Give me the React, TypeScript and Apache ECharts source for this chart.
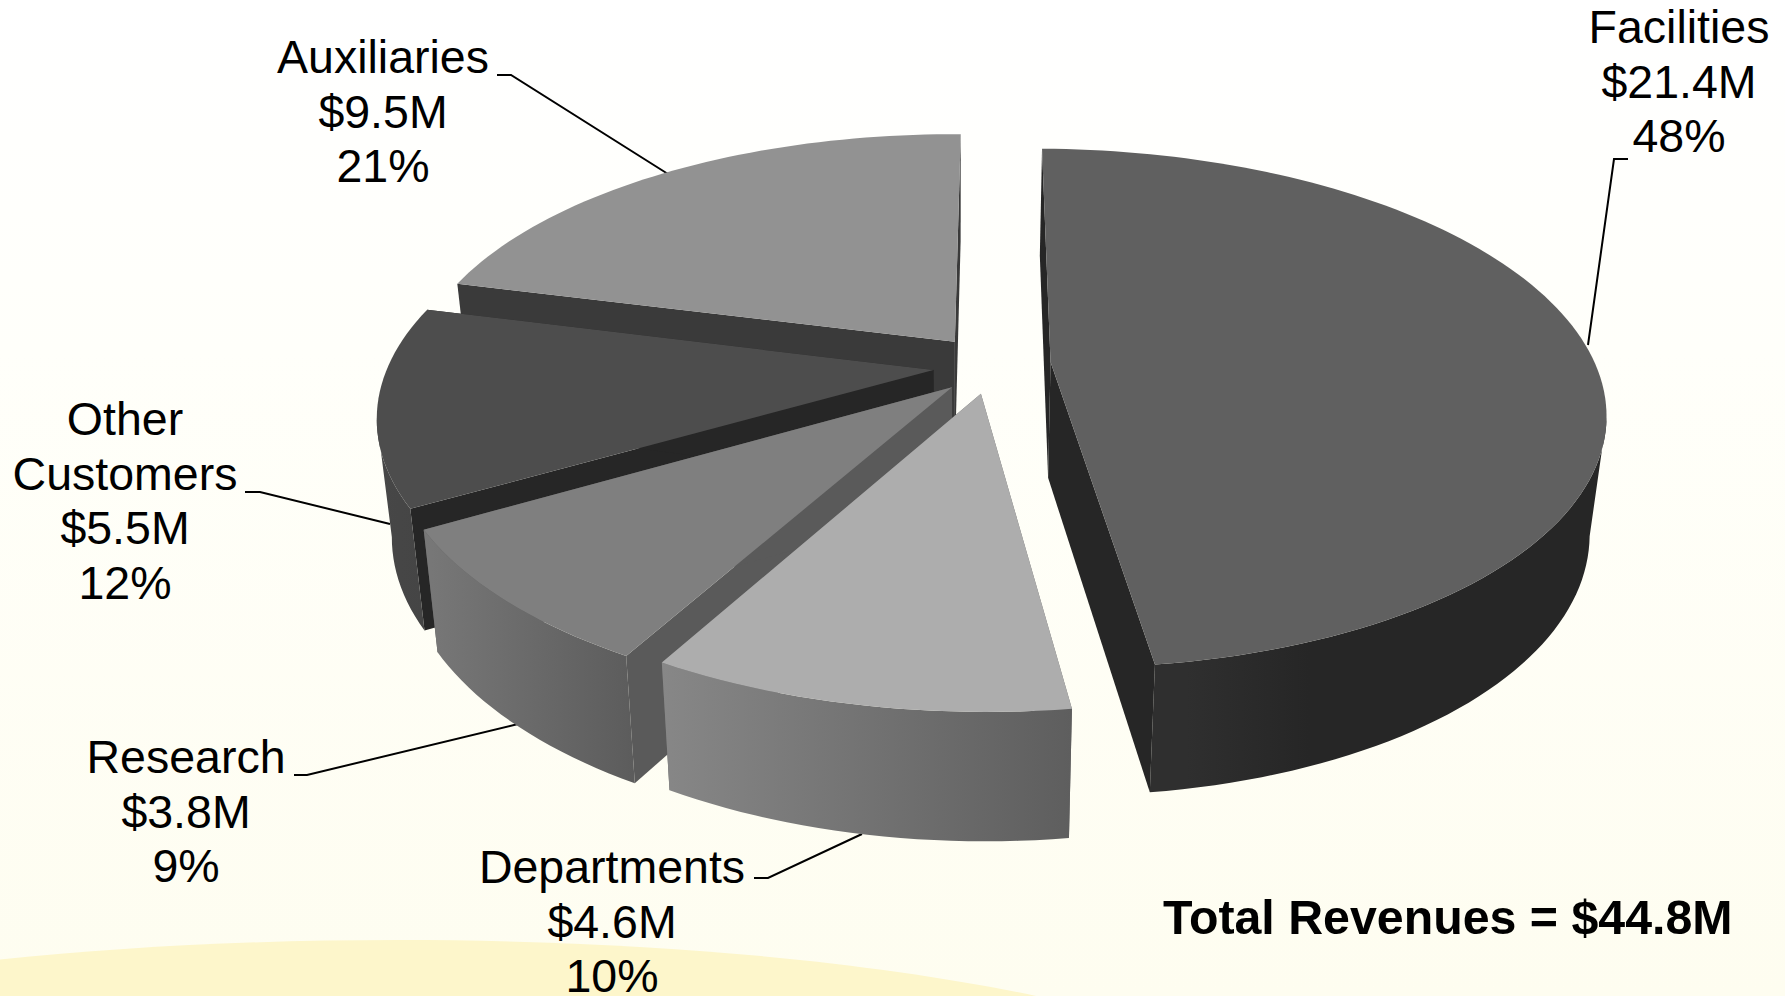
import React, { useEffect, useRef } from "react";
import * as echarts from "echarts";

const categories = ["Facilities", "Departments", "Research", "Other\nCustomers", "Auxiliaries"];
const values = [21.4, 4.6, 3.8, 5.5, 9.5];
const percents = [48, 10, 9, 12, 21];
const totalLabel = "Total Revenues = $44.8M";

// styles, in the same order as the categories
const topColors = ["#606060", "#adadad", "#7f7f7f", "#4d4d4d", "#929292"];
const cutColors = ["#262626", "#6a6a6a", "#5a5a5a", "#262626", "#3a3a3a"];
const wallStops: [number, string][][] = [
  [[0, "#2f2f2f"], [0.08, "#2f2f2f"], [0.35, "#262626"], [1, "#262626"]],
  [[0, "#878787"], [1, "#5e5e5e"]],
  [[0, "#787878"], [1, "#5c5c5c"]],
  [[0, "#474747"], [1, "#454545"]],
  [[0, "#555555"], [1, "#555555"]],
];
const explode: [number, number][] = [
  [0.172, -0.012],
  [0.043, 0.112],
  [-0.009, 0.087],
  [-0.043, 0.02],
  [-0.004, -0.0935],
];
const radii = [1, 0.992, 1, 1, 1];
const labelCentre: [number, number][] = [
  [1679, 27],
  [612, 867],
  [186, 757],
  [125, 419],
  [383, 57],
];
const leaders: [number, number][][] = [
  [[1628, 159], [1614, 159], [1588, 345]],
  [[754, 878], [768, 878], [862, 834]],
  [[294, 775], [307, 775], [518, 724]],
  [[245, 492], [260, 492], [390, 524]],
  [[497, 75], [511, 75], [668, 174]],
];
const paintOrder = [4, 3, 2, 1, 0];
const startDeg = 0.7;

// projection of the tilted pie
const CX = 957, CY = 365, RX = 545, AY = 252.3, PERSP = 0.1785, DEPTH = 116, CONVERGE = 0.026;
const FONT = '46.5px "Liberation Sans", Arial, sans-serif';
const LINE_STEP = 54.6;

function project(x: number, y: number, z: number): number[] {
  const den = 1 - PERSP * y;
  return [CX + ((RX * x) / den) * (1 - CONVERGE * z), CY + (AY * y) / den + (DEPTH * z) / Math.sqrt(den)];
}

const total = values.reduce((s, v) => s + v, 0);

function sliceAngles(i: number): [number, number] {
  let before = 0;
  for (let k = 0; k < i; k++) before += values[k];
  const a0 = startDeg + (before / total) * 360;
  return [a0, a0 + (values[i] / total) * 360];
}

function renderSlice(params: any) {
  const i = paintOrder[params.dataIndex];
  const [a0, a1] = sliceAngles(i);
  const [ox, oy] = explode[i];
  const rim = (deg: number, z: number) => {
    const t = (deg * Math.PI) / 180;
    return project(ox + radii[i] * Math.sin(t), oy - radii[i] * Math.cos(t), z);
  };
  const n = Math.max(8, Math.ceil((a1 - a0) / 1.5));
  const rimTop: number[][] = [];
  const rimBottom: number[][] = [];
  for (let k = 0; k <= n; k++) {
    const d = a0 + ((a1 - a0) * k) / n;
    rimTop.push(rim(d, 0));
    rimBottom.push(rim(d, 1));
  }
  // keep only the stretch of the outer wall that faces the viewer
  const faces = (k: number) => rimTop[k + 1][0] - rimTop[k][0] < 0;
  const shownTop: number[][] = [];
  const shownBottom: number[][] = [];
  for (let k = 0; k < n; k++) {
    if (!faces(k)) continue;
    if (shownTop.length === 0) {
      shownTop.push(rimTop[k]);
      shownBottom.push(rimBottom[k]);
    }
    shownTop.push(rimTop[k + 1]);
    shownBottom.push(rimBottom[k + 1]);
  }
  const apexTop = project(ox, oy, 0);
  const apexBottom = project(ox, oy, 1);
  const cutA = [apexTop, rimTop[0], rimBottom[0], apexBottom];
  const cutB = [apexTop, rimTop[n], rimBottom[n], apexBottom];
  const top = [apexTop, ...rimTop];
  const amount = `$${values[i].toFixed(1)}M`;
  const lines = `${categories[i]}\n${amount}\n${percents[i]}%`.split("\n");
  const children: any[] = [
    {
      type: "polyline",
      shape: { points: leaders[i] },
      style: { stroke: "#000", lineWidth: 2, fill: "none" },
    },
    { type: "polygon", shape: { points: cutA }, style: { fill: cutColors[i] } },
    { type: "polygon", shape: { points: cutB }, style: { fill: cutColors[i] } },
  ];
  if (shownTop.length > 1) {
    children.push({
      type: "polygon",
      shape: { points: [...shownTop, ...shownBottom.slice().reverse()] },
      style: {
        fill: new echarts.graphic.LinearGradient(
          0, 0, 1, 0,
          wallStops[i].map(([offset, color]) => ({ offset, color }))
        ),
      },
    });
  }
  children.push({ type: "polygon", shape: { points: top }, style: { fill: topColors[i] } });
  lines.forEach((line, l) => {
    children.push({
      type: "text",
      style: {
        text: line,
        x: labelCentre[i][0],
        y: labelCentre[i][1] + l * LINE_STEP,
        font: FONT,
        lineHeight: 34,
        fill: "#000",
        align: "center",
        verticalAlign: "middle",
      },
    });
  });
  return { type: "group", children };
}

export default function App() {
  const ref = useRef<HTMLDivElement>(null);
  useEffect(() => {
    document.body.style.margin = "0";
    const chart = echarts.init(ref.current!, undefined, { renderer: "svg" });
    chart.setOption({
      animation: false,
      backgroundColor: {
        type: "linear",
        x: 0, y: 0, x2: 0, y2: 1,
        colorStops: [
          { offset: 0, color: "#ffffff" },
          { offset: 0.35, color: "#fffffa" },
          { offset: 1, color: "#fefdf0" },
        ],
      },
      graphic: [
        {
          type: "ellipse",
          z: -1,
          shape: { cx: 398, cy: 1130, rx: 900, ry: 190 },
          style: { fill: "#fdf6cb" },
        },
        {
          type: "text",
          style: {
            text: totalLabel,
            x: 1163,
            y: 917,
            font: 'bold 48.3px "Liberation Sans", Arial, sans-serif',
            fill: "#000",
            align: "left",
            verticalAlign: "middle",
          },
        },
      ],
      series: [
        {
          type: "custom",
          coordinateSystem: "none",
          silent: true,
          data: paintOrder.map((i) => values[i]),
          renderItem: renderSlice,
        },
      ],
    });
    return () => chart.dispose();
  }, []);
  return <div ref={ref} style={{ position: "absolute", left: 0, top: 0, width: 1785, height: 996, overflow: "hidden" }} />;
}
